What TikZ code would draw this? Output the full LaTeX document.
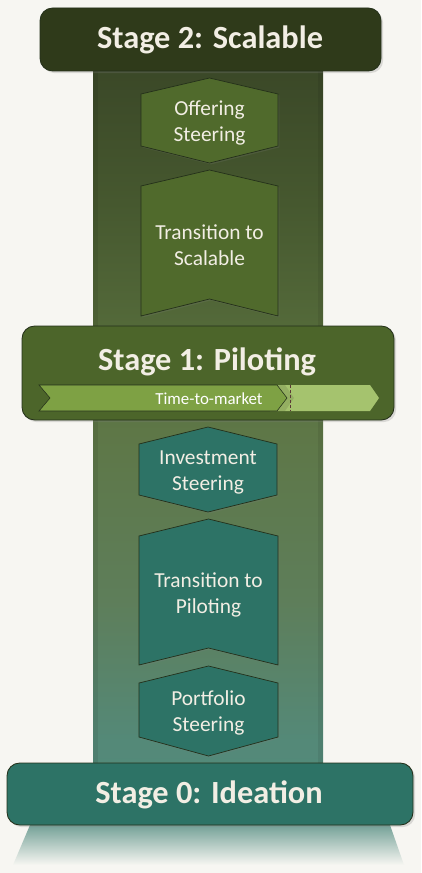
\documentclass[tikz,border=0pt]{standalone}
\usepackage{fontspec}
\setmainfont{Carlito}
\usepackage{xcolor}
\usepackage{tikz}
\usetikzlibrary{shadows,calc}
\definecolor{bgpaper}{HTML}{F7F6F2}
\definecolor{darkolive}{HTML}{2F3A1A}
\definecolor{olive}{HTML}{506A2C}
\definecolor{teal}{HTML}{2D7366}
\definecolor{cream}{HTML}{F2EEE4}
\definecolor{barmid}{HTML}{7EA144}
\definecolor{barlight}{HTML}{A5C36E}
\definecolor{edgedark}{HTML}{24301A}
\definecolor{tickbrown}{HTML}{5B3A36}
\definecolor{col0}{HTML}{538A7A}
\definecolor{col1}{HTML}{548978}
\definecolor{col2}{HTML}{5E7E5A}
\definecolor{col3}{HTML}{5E7747}
\definecolor{col4}{HTML}{546A3A}
\definecolor{col5}{HTML}{46582F}
\definecolor{col6}{HTML}{3A4727}
\pgfdeclareverticalshading{columnshade}{100bp}{
  color(0bp)=(col0);
  color(25bp)=(col0);
  color(27.4bp)=(col1);
  color(37.2bp)=(col2);
  color(49bp)=(col3);
  color(56bp)=(col4);
  color(65bp)=(col5);
  color(75bp)=(col6);
  color(100bp)=(col6)}
\tikzset{
  stagebox/.style={draw=edgedark, line width=0.6pt, rounded corners=9pt,
    drop shadow={opacity=0.25, shadow xshift=1.5pt, shadow yshift=-1.5pt}},
  stepshape/.style={draw=edgedark, line width=0.5pt,
    drop shadow={opacity=0.2, shadow xshift=1pt, shadow yshift=-1pt}},
  stagelabel/.style={text=cream, font=\fontsize{23}{27}\selectfont\bfseries},
  steerlabel/.style={text=cream, align=center, font=\fontsize{15.2}{18.5}\selectfont}
}
\begin{document}
\begin{tikzpicture}[x=0.025cm, y=-0.025cm]
\useasboundingbox[fill=bgpaper] (0,0) rectangle (421,873);

% column behind the stages
\coordinate (colTL) at (93,60);
\coordinate (colBR) at (323,775);
\fill[shading=columnshade] (colTL) rectangle (colBR);
\fill[black, opacity=0.07] (93,60) rectangle (98,775);
\fill[black, opacity=0.07] (318,60) rectangle (323,775);

% fading foot under stage 0
\coordinate (ftl) at (30,825);
\coordinate (ftr) at (390,825);
\coordinate (fbr) at (404,865);
\coordinate (fbl) at (13,865);
\shade[top color=teal!65!bgpaper, bottom color=bgpaper] (ftl) -- (ftr) -- (fbr) -- (fbl) -- cycle;

% stage 2 part
\draw[stagebox, fill=darkolive] (40,8) rectangle (381,71);
\node[stagelabel] (stagetwo) at (210,39.5) {Stage 2: Scalable};

\draw[stepshape, fill=olive] (141,94) -- (209.5,78) -- (278,94) -- (278,146) -- (209.5,163) -- (141,146) -- cycle;
\node[steerlabel] (offering) at (209.5,123) {Offering\\Steering};

\draw[stepshape, fill=olive] (141,186) -- (209.5,170) -- (278,186) -- (278,316) -- (209.5,299) -- (141,316) -- cycle;
\node[steerlabel] (toscalable) at (209.5,245) {Transition to\\Scalable};

% stage 1 part
\draw[stagebox, fill=olive!95!black] (22,326) rectangle (394,420);
\node[stagelabel] (stageone) at (207,361.5) {Stage 1: Piloting};

\coordinate (bar0) at (39,385);
\coordinate (bar1) at (39,411);
\fill[barlight] (270,385) -- (370,385) -- (379,398) -- (370,411) -- (270,411) -- cycle;
\fill[black, opacity=0.1] (277,385) -- (285,385) -- (294,398) -- (285,411) -- (277,411) -- cycle;
\draw[edgedark, line width=0.4pt, fill=barmid] (bar0) -- (277,385) -- (287,398) -- (277,411) -- (bar1) -- (50,398) -- cycle;
\draw[tickbrown, line width=0.6pt, dash pattern=on 2pt off 1.5pt] (290,385) -- (290,411);
\node[text=white, font=\fontsize{12}{14}\selectfont] (ttm) at (209,399) {Time-to-market};

\draw[stepshape, fill=teal] (139,444) -- (208,427) -- (277,444) -- (277,495) -- (208,512) -- (139,495) -- cycle;
\node[steerlabel] (investment) at (208,472) {Investment\\Steering};

\draw[stepshape, fill=teal] (139,536) -- (208.5,519) -- (278,536) -- (278,665) -- (208.5,648) -- (139,665) -- cycle;
\node[steerlabel] (topiloting) at (208.5,595) {Transition to\\Piloting};

% stage 0 part
\draw[stepshape, fill=teal] (139,683) -- (208.5,666) -- (278,683) -- (278,737) -- (208.5,756) -- (139,737) -- cycle;
\node[steerlabel] (portfolio) at (208.5,713) {Portfolio\\Steering};

\draw[stagebox, fill=teal] (7,763) rectangle (413,825);
\node[stagelabel] (stagezero) at (209,795) {Stage 0: Ideation};
\end{tikzpicture}
\end{document}
